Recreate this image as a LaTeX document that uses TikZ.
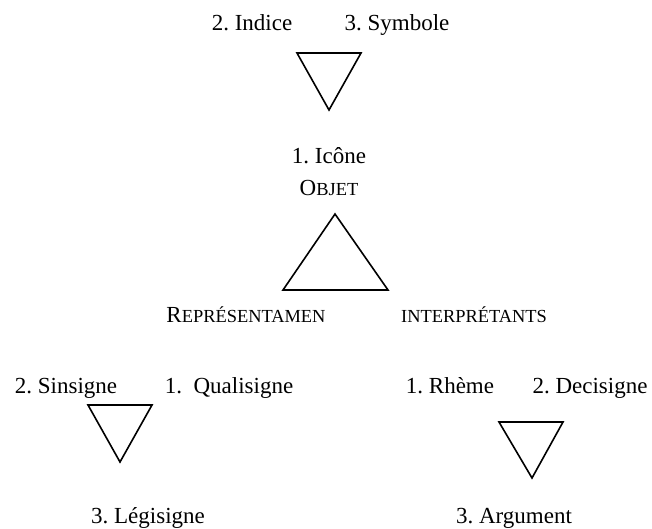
\documentclass[tikz,border=0pt]{standalone}
\usepackage{fontspec}
\setmainfont{Liberation Serif}
\frenchspacing
\newcommand\mysc[1]{{\fontsize{18.4}{20}\selectfont #1}}
\tikzset{
  lbl/.style={anchor=base, inner sep=0pt, font=\fontsize{23}{27}\selectfont},
  tri/.style={draw, line width=1.6pt, line join=miter}
}
\begin{document}
\begin{tikzpicture}[x=1pt,y=-1pt]
\useasboundingbox (0,0) rectangle (652,528);
% top triangle
\coordinate (t1) at (297,53); \coordinate (t2) at (361,53); \coordinate (t3) at (329,110);
\draw[tri] (t1) -- (t2) -- (t3) -- cycle;
\node[lbl] (indice) at (252,30) {2. Indice};
\node[lbl] (symbole) at (397,30) {3. Symbole};
\node[lbl] (icone) at (329,163) {1. Icône};
\node[lbl] (objet) at (329,195) {O\mysc{BJET}};
% middle triangle
\coordinate (m1) at (335,214); \coordinate (m2) at (388,290); \coordinate (m3) at (283,290);
\draw[tri] (m1) -- (m2) -- (m3) -- cycle;
\node[lbl] (repr) at (246,322) {R\mysc{EPRÉSENTAMEN}};
\node[lbl] (interp) at (474,322) {\mysc{INTERPRÉTANTS}};
% bottom-left triangle
\coordinate (l1) at (88,405); \coordinate (l2) at (152,405); \coordinate (l3) at (120,462);
\draw[tri] (l1) -- (l2) -- (l3) -- cycle;
\node[lbl] (sinsigne) at (66,393) {2. Sinsigne};
\node[lbl] (quali) at (229,393) {1.\ \ Qualisigne};
\node[lbl] (legi) at (148,523) {3. Légisigne};
% bottom-right triangle
\coordinate (r1) at (499,422); \coordinate (r2) at (563,422); \coordinate (r3) at (532,478);
\draw[tri] (r1) -- (r2) -- (r3) -- cycle;
\node[lbl] (rheme) at (450,393) {1. Rhème};
\node[lbl] (deci) at (590,393) {2. Decisigne};
\node[lbl] (arg) at (514,523) {3. Argument};
\end{tikzpicture}
\end{document}
